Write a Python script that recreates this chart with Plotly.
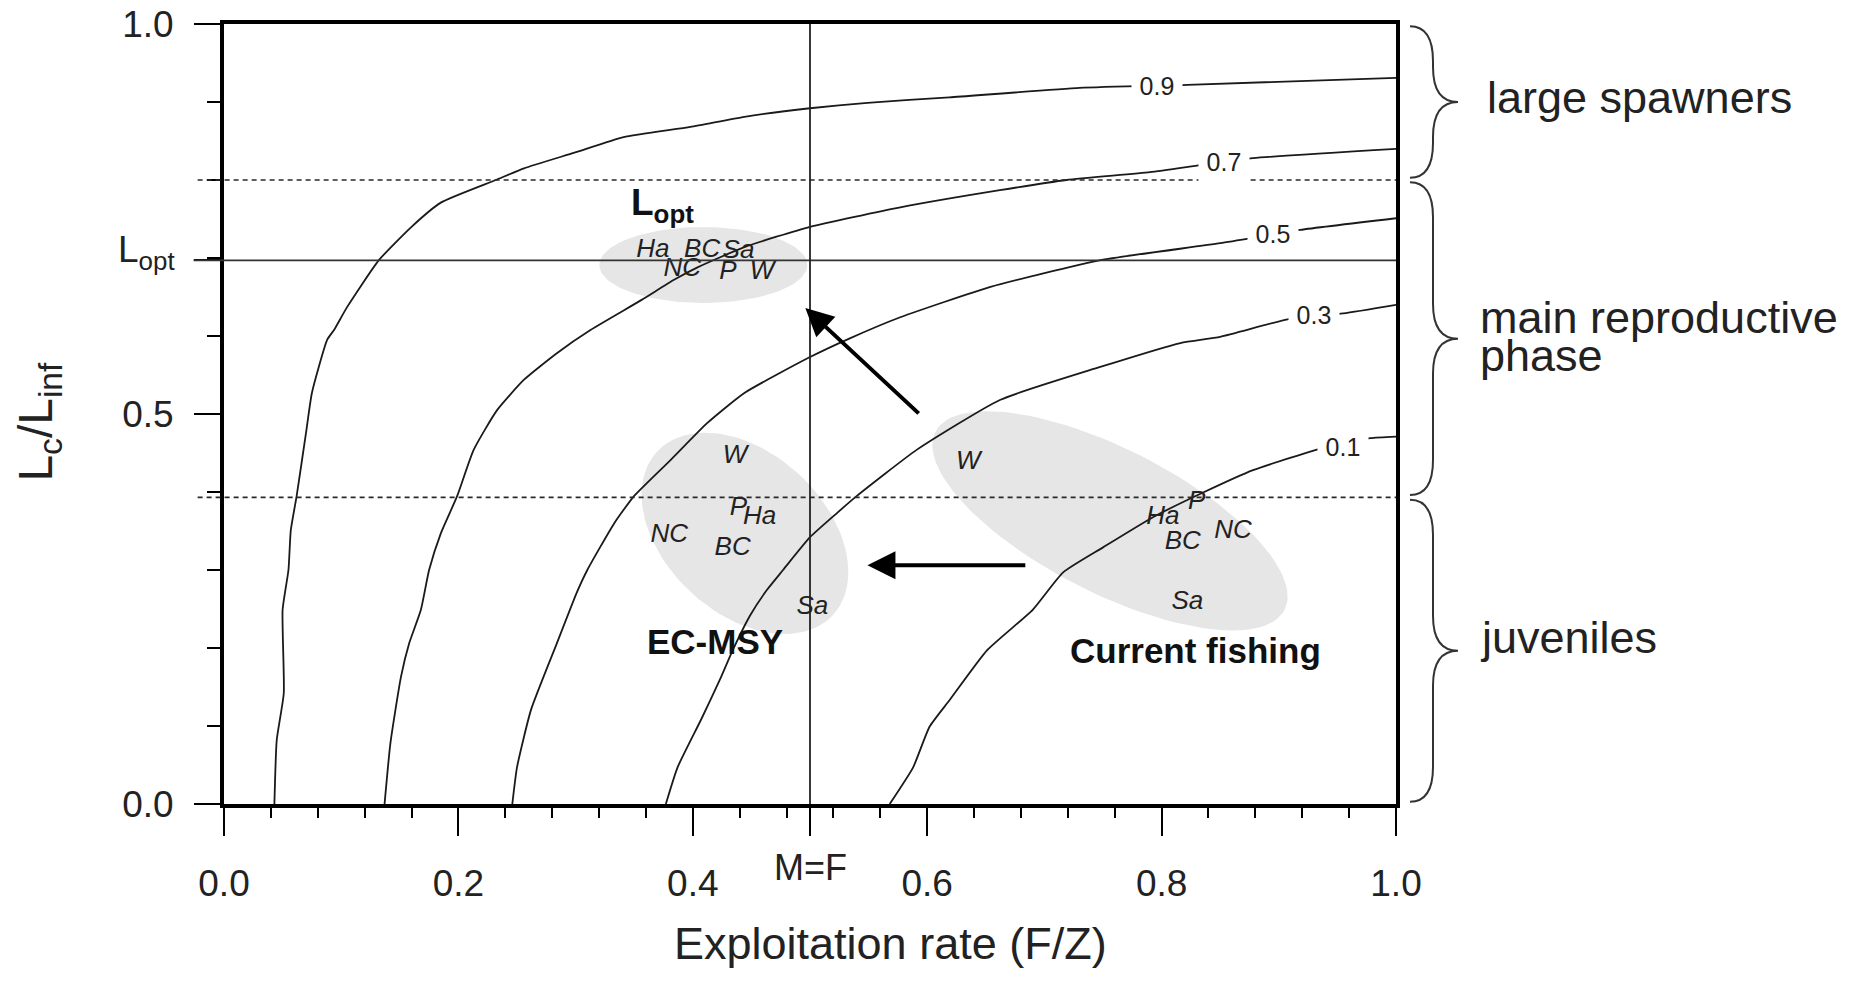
import numpy as np
import plotly.graph_objects as go

# ---------------- data ----------------
# iso-lines (yield-per-recruit contours), x = F/Z, y = Lc/Linf
c09_x = [0.043, 0.045, 0.051, 0.050, 0.055, 0.057, 0.062, 0.070, 0.075, 0.088, 0.094, 0.105, 0.132,
         0.160, 0.185, 0.232, 0.256, 0.299, 0.341, 0.398, 0.444, 0.500, 0.549, 0.619, 0.730, 0.822, 1.000]
c09_y = [0.000, 0.082, 0.142, 0.249, 0.300, 0.351, 0.395, 0.476, 0.527, 0.595, 0.608, 0.637, 0.697,
         0.740, 0.771, 0.800, 0.815, 0.835, 0.855, 0.868, 0.881, 0.892, 0.899, 0.906, 0.918, 0.922, 0.931]
c07_x = [0.137, 0.142, 0.151, 0.158, 0.168, 0.175, 0.185, 0.199, 0.213, 0.233, 0.256, 0.284, 0.313,
         0.356, 0.384, 0.404, 0.444, 0.500, 0.577, 0.662, 0.719, 0.790, 0.833, 0.878, 1.000]
c07_y = [0.000, 0.078, 0.163, 0.206, 0.249, 0.300, 0.347, 0.395, 0.454, 0.505, 0.544, 0.578, 0.608,
         0.646, 0.672, 0.688, 0.714, 0.740, 0.765, 0.787, 0.800, 0.810, 0.819, 0.828, 0.840]
c05_x = [0.246, 0.250, 0.262, 0.284, 0.301, 0.310, 0.333, 0.350, 0.381, 0.412, 0.444, 0.500, 0.534,
         0.577, 0.654, 0.747, 0.850, 0.918, 1.000]
c05_y = [0.000, 0.047, 0.121, 0.206, 0.271, 0.300, 0.360, 0.395, 0.441, 0.488, 0.527, 0.573, 0.597,
         0.624, 0.663, 0.697, 0.719, 0.736, 0.751]
c03_x = [0.377, 0.387, 0.407, 0.423, 0.434, 0.449, 0.463, 0.477, 0.500, 0.523, 0.540, 0.591, 0.662,
         0.747, 0.816, 0.850, 0.912, 0.955, 1.000]
c03_y = [0.000, 0.047, 0.108, 0.159, 0.197, 0.242, 0.274, 0.300, 0.342, 0.373, 0.395, 0.454, 0.518,
         0.560, 0.591, 0.599, 0.623, 0.629, 0.640]
c01_x = [0.568, 0.588, 0.602, 0.619, 0.651, 0.690, 0.716, 0.750, 0.793, 0.835, 0.878, 0.941, 0.978, 1.000]
c01_y = [0.000, 0.047, 0.099, 0.133, 0.197, 0.249, 0.297, 0.329, 0.368, 0.399, 0.428, 0.458, 0.469, 0.471]

contour_labels = ["0.9", "0.7", "0.5", "0.3", "0.1"]
contour_label_x = [0.796, 0.853, 0.895, 0.930, 0.955]
contour_label_y = [0.921, 0.823, 0.731, 0.627, 0.458]

# reference lines
y_lopt = 0.697
y_dashed = [0.800, 0.393]
x_mf = 0.5

# species positions (italic labels)
lopt_names = ["Ha", "BC", "Sa", "NC", "P", "W"]
lopt_x = [0.366, 0.408, 0.439, 0.391, 0.430, 0.459]
lopt_y = [0.710, 0.710, 0.708, 0.685, 0.682, 0.682]
ecmsy_names = ["W", "P", "Ha", "NC", "BC", "Sa"]
ecmsy_x = [0.436, 0.439, 0.457, 0.380, 0.434, 0.502]
ecmsy_y = [0.445, 0.379, 0.367, 0.344, 0.327, 0.252]
cur_names = ["W", "Ha", "P", "NC", "BC", "Sa"]
cur_x = [0.635, 0.801, 0.830, 0.861, 0.818, 0.822]
cur_y = [0.438, 0.367, 0.386, 0.349, 0.335, 0.258]

# shaded groups (ellipses): centre, semi-axes (x-axis units), tilt (deg)
ell_cx = [0.409, 0.4445, 0.756]
ell_cy = [0.691, 0.347, 0.363]
ell_a = [0.0887, 0.1024, 0.1672]
ell_b = [0.0324, 0.0683, 0.0614]
ell_tilt = [0.0, -43.0, -27.0]

# arrows (tail -> head)
arrow_tail_x = [0.594, 0.685]
arrow_tail_y = [0.499, 0.306]
arrow_head_x = [0.496, 0.549]
arrow_head_y = [0.636, 0.306]

group_labels = ["EC-MSY", "Current fishing"]
group_x = [0.419, 0.829]
group_y = [0.208, 0.197]

# life stage braces on the right
stage_bounds = [(1.0, 0.8), (0.8, 0.393), (0.393, 0.0)]
stage_text = [["large spawners"], ["main reproductive", "phase"], ["juveniles"]]
stage_y = [[0.906], [0.624, 0.575], [0.214]]
stage_left_px = [[1485], [1478, 1478], [1478]]

x_tick_vals = [0.0, 0.2, 0.4, 0.5, 0.6, 0.8, 1.0]
x_tick_text = ["0.0", "0.2", "0.4", "", "0.6", "0.8", "1.0"]
x_minor_vals = [0.04, 0.08, 0.12, 0.16, 0.24, 0.28, 0.32, 0.36, 0.44, 0.48, 0.52, 0.56,
                0.64, 0.68, 0.72, 0.76, 0.84, 0.88, 0.92, 0.96]
y_tick_vals = [0.0, 0.5, y_lopt, 1.0]
y_tick_text = ["0.0", "0.5", "", "1.0"]
y_minor_vals = [0.1, 0.2, 0.3, 0.4, 0.6, 0.7, 0.8, 0.9]

# ---------------- layout constants ----------------
W, H = 1860, 981
ML, MR, MT, MB = 224, 464, 24, 177
PW, PH = W - ML - MR, H - MT - MB
FONT = "Liberation Sans, Arial, Helvetica, sans-serif"
GREY = "#e6e6e6"
INK = "#1a1a1a"

fig = go.Figure()

# ellipses
t = np.linspace(0, 2 * np.pi, 120)
for cx, cy, a, b, ang in zip(ell_cx, ell_cy, ell_a, ell_b, ell_tilt):
    th = np.deg2rad(ang)
    ux, uy = a * PW * np.cos(t), b * PW * np.sin(t)
    rx = ux * np.cos(th) - uy * np.sin(th)
    ry = ux * np.sin(th) + uy * np.cos(th)
    fig.add_trace(go.Scatter(x=cx + rx / PW, y=cy + ry / PH, mode="lines", fill="toself",
                             fillcolor=GREY, line=dict(width=0, color=GREY),
                             hoverinfo="skip", showlegend=False))

# contour curves
for cx_, cy_ in [(c09_x, c09_y), (c07_x, c07_y), (c05_x, c05_y), (c03_x, c03_y), (c01_x, c01_y)]:
    fig.add_trace(go.Scatter(x=cx_, y=cy_, mode="lines",
                             line=dict(color=INK, width=1.8, shape="spline", smoothing=0.5),
                             hoverinfo="skip", showlegend=False))

# species labels
for names, xs, ys in [(lopt_names, lopt_x, lopt_y), (ecmsy_names, ecmsy_x, ecmsy_y),
                      (cur_names, cur_x, cur_y)]:
    fig.add_trace(go.Scatter(x=xs, y=ys, mode="text", text=names, textposition="middle center",
                             textfont=dict(family=FONT, size=26, color="#222", style="italic"),
                             hoverinfo="skip", showlegend=False))

shapes = []
shapes.append(dict(type="line", xref="paper", yref="y", x0=-0.026, x1=1, y0=y_lopt, y1=y_lopt,
                   line=dict(color="#333", width=1.8)))
for yd in y_dashed:
    shapes.append(dict(type="line", xref="paper", yref="y", x0=-0.0225, x1=1, y0=yd, y1=yd,
                       line=dict(color="#2a2a2a", width=1.7, dash="5px,4px")))
shapes.append(dict(type="line", xref="x", yref="paper", x0=x_mf, x1=x_mf, y0=0, y1=1,
                   line=dict(color="#222", width=1.8)))

# braces
xe, xb, xt = (1410 - ML) / PW, (1433 - ML) / PW, (1458 - ML) / PW
d = 35 / PH
for (y0, y1) in stage_bounds:
    y0e, y1e = y0 - 0.003, y1 + 0.003
    ym = (y0 + y1) / 2
    path = (f"M {xe},{y0e} Q {xb},{y0e} {xb},{y0e - d} L {xb},{ym + d} "
            f"Q {xb},{ym} {xt},{ym} Q {xb},{ym} {xb},{ym - d} "
            f"L {xb},{y1e + d} Q {xb},{y1e} {xe},{y1e}")
    shapes.append(dict(type="path", xref="paper", yref="y", path=path,
                       line=dict(color="#333", width=2)))

ann = []
for txt, lx, ly in zip(contour_labels, contour_label_x, contour_label_y):
    ann.append(dict(x=lx, y=ly, xref="x", yref="y", text=txt, showarrow=False,
                    font=dict(family=FONT, size=25, color="#222"), bgcolor="white",
                    width=46, height=34, borderpad=2))
for tx, ty, hx, hy in zip(arrow_tail_x, arrow_tail_y, arrow_head_x, arrow_head_y):
    ann.append(dict(x=hx, y=hy, ax=tx, ay=ty, xref="x", yref="y", axref="x", ayref="y",
                    text="", showarrow=True, arrowhead=2, arrowsize=1.4, arrowwidth=4,
                    arrowcolor="black", standoff=0))
for txt, gx, gy in zip(group_labels, group_x, group_y):
    ann.append(dict(x=gx, y=gy, xref="x", yref="y", text=f"<b>{txt}</b>", showarrow=False,
                    font=dict(family=FONT, size=35, color="#111")))
ann.append(dict(x=0.374, y=0.768, xref="x", yref="y", text="<b>L<sub>opt</sub></b>",
                showarrow=False, font=dict(family=FONT, size=37, color="#111")))
# L_opt tick label on the y axis
ann.append(dict(x=-0.040, y=0.708, xref="paper", yref="y", text="L<sub>opt</sub>",
                xanchor="right", yanchor="middle", showarrow=False,
                font=dict(family=FONT, size=37, color="#222")))
for lines, ys, xs in zip(stage_text, stage_y, stage_left_px):
    for txt, yy, xp in zip(lines, ys, xs):
        ann.append(dict(x=(xp - ML) / PW, y=yy, xref="paper", yref="y", text=txt,
                        xanchor="left", yanchor="middle", showarrow=False,
                        font=dict(family=FONT, size=45, color="#222")))
ann.append(dict(x=x_mf, y=-0.082, xref="x", yref="paper", text="M=F", showarrow=False,
                yanchor="middle", font=dict(family=FONT, size=36, color="#222")))
ann.append(dict(x=0.569, y=-0.179, xref="paper", yref="paper", text="Exploitation rate (F/Z)",
                showarrow=False, yanchor="middle", font=dict(family=FONT, size=45, color="#222")))
ann.append(dict(x=-0.158, y=0.49, xref="paper", yref="paper", text="L<sub>c</sub>/L<sub>inf</sub>",
                textangle=-90, showarrow=False, xanchor="center", yanchor="middle",
                font=dict(family=FONT, size=48, color="#222")))

fig.update_layout(width=W, height=H, autosize=False, template="none",
                  margin=dict(l=ML, r=MR, t=MT, b=MB, pad=0),
                  paper_bgcolor="white", plot_bgcolor="white",
                  shapes=shapes, annotations=ann, showlegend=False,
                  font=dict(family=FONT, color="#222"))
fig.update_xaxes(range=[0, 1], automargin=False, showgrid=False, zeroline=False, showline=True,
                 linewidth=4, linecolor="black", mirror=True, ticks="outside", ticklen=28,
                 tickwidth=2, tickcolor="black", tickmode="array", tickvals=x_tick_vals,
                 ticktext=x_tick_text, tickfont=dict(family=FONT, size=37, color="#222"),
                 ticklabelstandoff=16,
                 minor=dict(tickmode="array", tickvals=x_minor_vals, ticks="outside", ticklen=10,
                            tickwidth=1.5, tickcolor="black"))
fig.update_yaxes(range=[0, 1], automargin=False, showgrid=False, zeroline=False, showline=True,
                 linewidth=4, linecolor="black", mirror=True, ticks="outside", ticklen=26,
                 tickwidth=2, tickcolor="black", tickmode="array", tickvals=y_tick_vals,
                 ticktext=y_tick_text, tickfont=dict(family=FONT, size=37, color="#222"),
                 ticklabelstandoff=13,
                 minor=dict(tickmode="array", tickvals=y_minor_vals, ticks="outside", ticklen=13,
                            tickwidth=1.5, tickcolor="black"))

fig.write_html("out.html", config={"displayModeBar": False},
               post_script="document.body.style.margin='0';")
